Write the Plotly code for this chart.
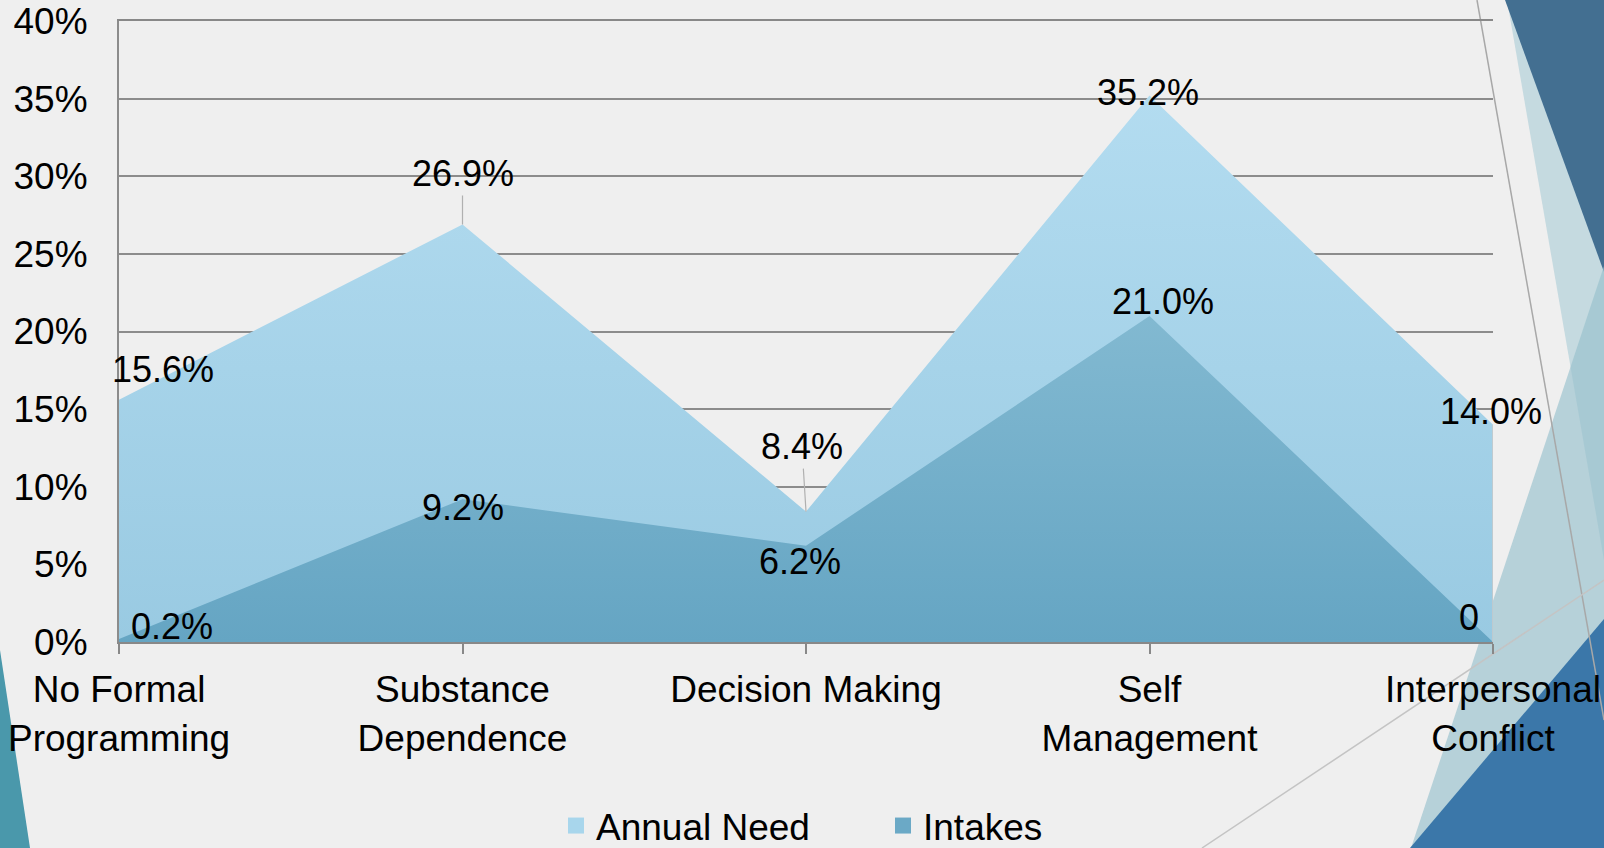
import plotly.graph_objects as go

categories = ["No Formal<br>Programming", "Substance<br>Dependence", "Decision Making",
              "Self<br>Management", "Interpersonal<br>Conflict"]
annual_need = [0.156, 0.269, 0.084, 0.352, 0.140]
intakes = [0.002, 0.092, 0.062, 0.210, 0.0]
annual_labels = ["15.6%", "26.9%", "8.4%", "35.2%", "14.0%"]
intake_labels = ["0.2%", "9.2%", "6.2%", "21.0%", "0"]

# plot area in page pixels, used for decoration placement
L, R, T, B = 119, 1493, 21, 642


def px(x):
    return (x - L) / (R - L)


def py(y):
    return (B - y) / (B - T)


def poly(points):
    return "M " + " L ".join(f"{px(x)},{py(y)}" for x, y in points) + " Z"


FONT = "Liberation Sans, Arial, sans-serif"

fig = go.Figure()
fig.add_trace(go.Scatter(
    x=categories, y=annual_need, name="Annual Need", mode="none", fill="tozeroy",
    fillgradient=dict(type="vertical", start=0, stop=max(annual_need),
                      colorscale=[[0, "#99cae2"], [1, "#b3dcf0"]]),
    hoverinfo="skip", showlegend=False,
))
fig.add_trace(go.Scatter(
    x=categories, y=intakes, name="Intakes", mode="none", fill="tozeroy",
    fillgradient=dict(type="vertical", start=0, stop=max(intakes),
                      colorscale=[[0, "#65a5c3"], [1, "#82b9d1"]]),
    hoverinfo="skip", showlegend=False,
))
# legend entries with square swatches
for name, col in [("Annual Need", "#a8d6ec"), ("Intakes", "#6ba9c6")]:
    fig.add_trace(go.Scatter(x=[None], y=[None], name=name, mode="markers",
                             marker=dict(symbol="square", size=18, color=col)))

# label offsets (pixels) as placed in the original chart
annual_off = [(44, 30), (0, 51), (-4, 65), (-2, 3), (-2, 13)]
intake_off = [(53, 12), (0, -8), (-6, -16), (13, 14), (-24, 25)]
lab_font = dict(size=36, color="black", family=FONT)
annotations = []
for i, (v, t) in enumerate(zip(annual_need, annual_labels)):
    dx, dy = annual_off[i]
    if i in (1, 2):
        annotations.append(dict(x=i, y=v, text=t, showarrow=True, arrowhead=0,
                                arrowwidth=1.2, arrowcolor="#b0b0b0", ax=dx, ay=-dy,
                                standoff=0, font=lab_font))
    else:
        annotations.append(dict(x=i, y=v, text=t, showarrow=False, xshift=dx, yshift=dy,
                                font=lab_font))
for i, (v, t) in enumerate(zip(intakes, intake_labels)):
    dx, dy = intake_off[i]
    annotations.append(dict(x=i, y=v, text=t, showarrow=False, xshift=dx, yshift=dy,
                            font=lab_font))

shapes = [
    # slide decorations
    dict(type="path", path=poly([(1507, 0), (1604, 0), (1604, 560)]), xref="paper", yref="paper",
         fillcolor="rgba(168,203,214,0.6)", line=dict(width=0), layer="below"),
    dict(type="path", path=poly([(1505, 0), (1604, 0), (1604, 272)]), xref="paper", yref="paper",
         fillcolor="#436f91", line=dict(width=0), layer="below"),
    dict(type="path", path=poly([(1411, 848), (1604, 266), (1604, 848)]), xref="paper", yref="paper",
         fillcolor="rgba(150,192,205,0.65)", line=dict(width=0), layer="below"),
    dict(type="path", path=poly([(1410, 848), (1604, 619), (1604, 848)]), xref="paper", yref="paper",
         fillcolor="#3b77a9", line=dict(width=0), layer="below"),
    dict(type="path", path=poly([(0, 650), (30, 848), (0, 848)]), xref="paper", yref="paper",
         fillcolor="#4a98ab", line=dict(width=0), layer="below"),
    dict(type="line", x0=px(1477), y0=py(0), x1=px(1604), y1=py(720), xref="paper", yref="paper",
         line=dict(color="#a8a8a8", width=1.5), layer="below"),
    dict(type="line", x0=px(1202), y0=py(848), x1=px(1604), y1=py(580), xref="paper", yref="paper",
         line=dict(color="#c4c4c4", width=1.5), layer="below"),
    # right edge of the area
    dict(type="line", x0=4, x1=4, y0=0, y1=annual_need[-1], xref="x", yref="y",
         line=dict(color="#c8c8c8", width=1.5)),
]

fig.update_layout(
    width=1604, height=848,
    margin=dict(l=L, r=1604 - R, t=T, b=848 - B, autoexpand=False),
    paper_bgcolor="#efefef", plot_bgcolor="rgba(0,0,0,0)",
    font=dict(family=FONT, size=34, color="black"),
    showlegend=True,
    legend=dict(orientation="h", x=px(556), xanchor="left", y=py(826), yanchor="middle",
                font=dict(size=37), bgcolor="rgba(0,0,0,0)", entrywidth=282,
                entrywidthmode="pixels"),
    xaxis=dict(type="category", range=[0, 4], showgrid=False, showline=True, mirror=True,
               linecolor="#888888", linewidth=2, ticks="outside", ticklen=10,
               tickcolor="#888888", tickwidth=2, tickfont=dict(size=37),
               ticklabelstandoff=4, zeroline=False, automargin=False),
    yaxis=dict(range=[0, 0.4], dtick=0.05, tickformat=".0%", showgrid=True,
               gridcolor="#8c8c8c", gridwidth=2, showline=True, linecolor="#8c8c8c",
               linewidth=2, zeroline=False, ticks="", tickfont=dict(size=37),
               ticklabelstandoff=22, automargin=False),
    annotations=annotations,
    shapes=shapes,
)

fig.write_html("out.html", config={"displayModeBar": False},
               post_script="document.body.style.margin='0';")
